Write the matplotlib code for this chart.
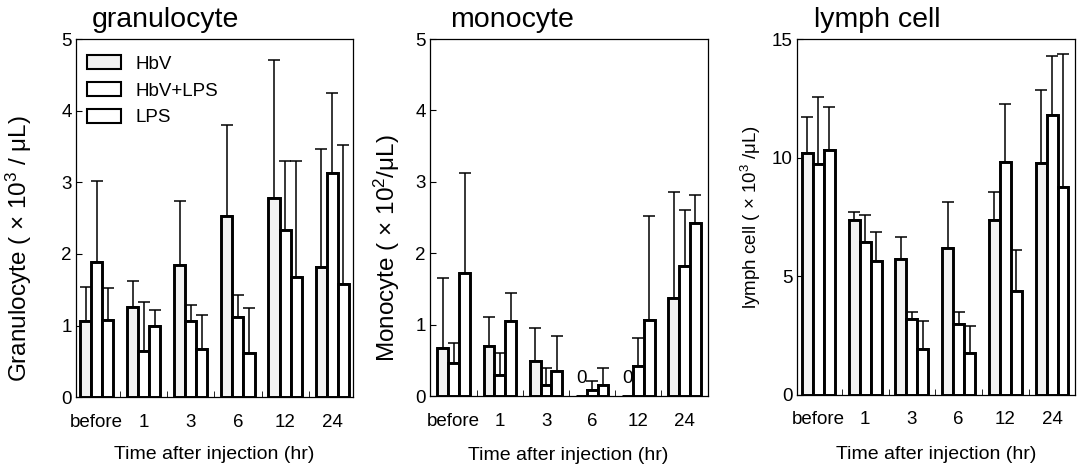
import matplotlib
matplotlib.use('Agg')
import matplotlib.pyplot as plt
from matplotlib.patches import Patch
import numpy as np

plt.rcParams['font.family'] = ['Liberation Sans', 'DejaVu Sans']
plt.rcParams['mathtext.fontset'] = 'custom'
plt.rcParams['mathtext.rm'] = 'Liberation Sans'
plt.rcParams['mathtext.default'] = 'regular'

times = ['before', '1', '3', '6', '12', '24']
groups = ['HbV', 'HbV+LPS', 'LPS']

# bar heights and top of error bars
gran_hbv = [1.07, 1.26, 1.85, 2.53, 2.78, 1.82]
gran_hbv_top = [1.54, 1.62, 2.74, 3.80, 4.70, 3.47]
gran_hbvlps = [1.88, 0.64, 1.06, 1.12, 2.33, 3.13]
gran_hbvlps_top = [3.02, 1.33, 1.29, 1.42, 3.30, 4.25]
gran_lps = [1.08, 0.99, 0.67, 0.61, 1.68, 1.58]
gran_lps_top = [1.52, 1.21, 1.14, 1.24, 3.30, 3.52]

mono_hbv = [0.68, 0.70, 0.49, 0, 0, 1.37]
mono_hbv_top = [1.65, 1.11, 0.95, 0, 0, 2.86]
mono_hbvlps = [0.47, 0.30, 0.15, 0.09, 0.42, 1.82]
mono_hbvlps_top = [0.75, 0.61, 0.40, 0.21, 0.81, 2.60]
mono_lps = [1.72, 1.05, 0.35, 0.16, 1.06, 2.42]
mono_lps_top = [3.12, 1.44, 0.84, 0.39, 2.52, 2.82]

lymph_hbv = [10.2, 7.37, 5.74, 6.17, 7.39, 9.78]
lymph_hbv_top = [11.72, 7.72, 6.65, 8.14, 8.54, 12.87]
lymph_hbvlps = [9.75, 6.44, 3.19, 2.97, 9.82, 11.81]
lymph_hbvlps_top = [12.54, 7.60, 3.51, 3.51, 12.24, 14.27]
lymph_lps = [10.31, 5.64, 1.95, 1.75, 4.38, 8.76]
lymph_lps_top = [12.14, 6.88, 3.11, 2.90, 6.09, 14.37]

fills = ['#f2f2f2', 'white', 'white']

panels = [
    dict(title='granulocyte', ylabel='Granulocyte ( × 10$^3$ / μL)', ylab_size=17.5,
         vals=[gran_hbv, gran_hbvlps, gran_lps],
         tops=[gran_hbv_top, gran_hbvlps_top, gran_lps_top],
         ymax=5, yticks=[0, 1, 2, 3, 4, 5],
         rect=[0.0706, 0.155, 0.257, 0.762], xlim=(-0.44, 5.44),
         ylab_xy=(-0.152, 0.414), xlab_y=-0.137, title_x=0.058),
    dict(title='monocyte', ylabel='Monocyte ( × 10$^2$/μL)', ylab_size=17.5,
         vals=[mono_hbv, mono_hbvlps, mono_lps],
         tops=[mono_hbv_top, mono_hbvlps_top, mono_lps_top],
         ymax=5, yticks=[0, 1, 2, 3, 4, 5],
         rect=[0.399, 0.157, 0.258, 0.760], xlim=(-0.52, 5.5),
         ylab_xy=(-0.10, 0.413), xlab_y=-0.142, title_x=0.072),
    dict(title='lymph cell', ylabel='lymph cell ( × 10$^3$ /μL)', ylab_size=13.5,
         vals=[lymph_hbv, lymph_hbvlps, lymph_lps],
         tops=[lymph_hbv_top, lymph_hbvlps_top, lymph_lps_top],
         ymax=15, yticks=[0, 5, 10, 15],
         rect=[0.740, 0.160, 0.2585, 0.757], xlim=(-0.46, 5.5),
         ylab_xy=(-0.122, 0.5), xlab_y=-0.143, title_x=0.061),
]

fig = plt.figure(figsize=(10.77, 4.7), dpi=100)
x = np.arange(len(times))
w = 0.235

for p in panels:
    ax = fig.add_axes(p['rect'])
    for k in range(3):
        v = np.array(p['vals'][k])
        t = np.array(p['tops'][k])
        xs = x + (k - 1) * w
        ax.bar(xs, v, w, color=fills[k], edgecolor='black', linewidth=2.1, zorder=2)
        up = np.where(t > 0, t - v, 0)
        keep = t > 0
        ax.errorbar(xs[keep], v[keep], yerr=[np.zeros(keep.sum()), up[keep]],
                    fmt='none', ecolor='black', elinewidth=1.1, capsize=4,
                    capthick=1.1, zorder=1)
        # groups with no cells are marked with a zero
        for i in np.where((v == 0) & (t == 0))[0]:
            ax.text(xs[i], p['ymax'] * 0.05, '0', ha='center', va='center', fontsize=13.5)

    ax.set_xlim(*p['xlim'])
    ax.set_ylim(0, p['ymax'])
    ax.set_xticks(x)
    ax.set_xticklabels(times, fontsize=13.5)
    ax.set_xticks(x[:-1] + 0.5, minor=True)
    ax.tick_params(axis='x', which='major', length=0, pad=12)
    ax.tick_params(axis='x', which='minor', direction='in', length=4)
    ax.set_yticks(p['yticks'])
    ax.tick_params(axis='y', direction='in', length=4, labelsize=13.5, pad=3)
    for s in ax.spines.values():
        s.set_linewidth(0.9)
    ax.set_ylabel(p['ylabel'], fontsize=p['ylab_size'])
    ax.yaxis.set_label_coords(*p['ylab_xy'])
    ax.set_xlabel('Time after injection (hr)', fontsize=14)
    ax.xaxis.set_label_coords(0.5, p['xlab_y'])
    ax.text(p['title_x'], 1.033, p['title'], transform=ax.transAxes,
            fontsize=20.5, ha='left', va='baseline')

    if p['title'] == 'granulocyte':
        handles = [Patch(facecolor=fills[k], edgecolor='black', linewidth=1.5) for k in range(3)]
        ax.legend(handles, groups, loc='upper left', bbox_to_anchor=(0.04, 0.955),
                  frameon=False, fontsize=13.5, handlelength=1.8, handleheight=0.8,
                  handletextpad=0.8, labelspacing=0.48, borderpad=0, borderaxespad=0)

plt.savefig('out.png', dpi=100)
